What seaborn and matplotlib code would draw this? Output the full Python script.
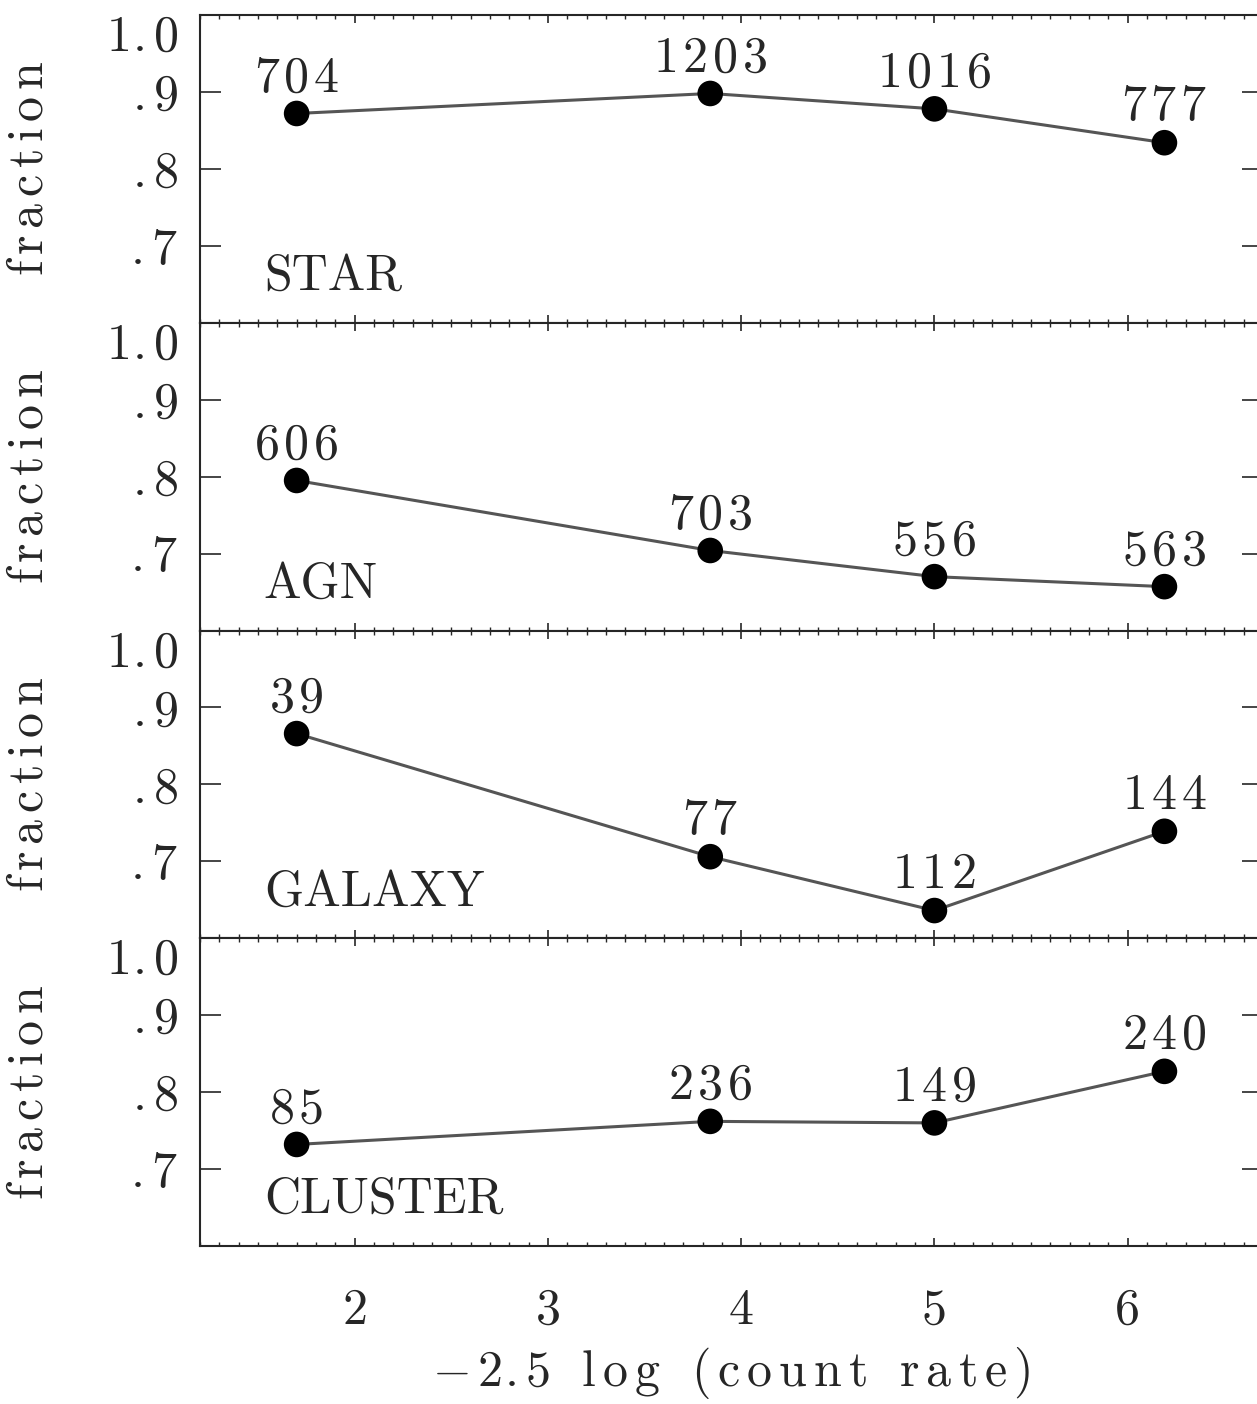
import numpy as np
import pandas as pd
import matplotlib
matplotlib.use("Agg")
import matplotlib.pyplot as plt
from matplotlib.ticker import FixedLocator, FixedFormatter, MultipleLocator
import seaborn as sns

# Magnitude bins (-2.5 log count rate)
mag = [1.7, 3.84, 5.0, 6.19]

# Fraction per class and the number of sources in each bin
classes = ["STAR", "AGN", "GALAXY", "CLUSTER"]
frac_star = [0.872, 0.898, 0.878, 0.834]
frac_agn = [0.795, 0.704, 0.670, 0.657]
frac_galaxy = [0.866, 0.706, 0.636, 0.739]
frac_cluster = [0.732, 0.762, 0.760, 0.827]
n_star = [704, 1203, 1016, 777]
n_agn = [606, 703, 556, 563]
n_galaxy = [39, 77, 112, 144]
n_cluster = [85, 236, 149, 240]

y_ticks = [1.0, 0.9, 0.8, 0.7]
y_ticklabels = ["1.0", ".9", ".8", ".7"]
x_ticks = [2, 3, 4, 5, 6]
x_ticklabels = ["2", "3", "4", "5", "6"]

fractions = [frac_star, frac_agn, frac_galaxy, frac_cluster]
counts = [n_star, n_agn, n_galaxy, n_cluster]


def spaced(s, gap, word=0.36):
    """Roman mathtext string with extra tracking between characters;
    decimal points are kept tight against their digits."""
    out = ""
    for i, ch in enumerate(s):
        if i > 0 and "." not in (ch, s[i - 1]) and " " not in (ch, s[i - 1]):
            out += r"\hspace{%g}" % gap
        if ch == " ":
            out += r"\hspace{%g}" % word
        elif ch == "-":
            out += "-"
        elif ch == ".":
            out += r"\hspace{0.04}\mathrm{.}\hspace{-0.05}"
        else:
            out += r"\mathrm{%s}" % ch
    return "$" + out + "$"


sns.set_style("ticks")
plt.rcParams["font.family"] = ["cmr10", "DejaVu Serif"]
plt.rcParams["mathtext.fontset"] = "cm"
plt.rcParams["axes.unicode_minus"] = False
plt.rcParams["axes.linewidth"] = 1.5

FS = 36
DIGIT_GAP = 0.11
TICK_GAP = 0.06
LOWER_GAP = 0.15

fig, axes = plt.subplots(4, 1, sharex=True, figsize=(12.57, 14.04), dpi=100,
                         gridspec_kw={"hspace": 0})
fig.subplots_adjust(left=200 / 1257, right=1263 / 1257,
                    top=1 - 15 / 1404, bottom=1 - 1246 / 1404)

for ax, name, fr, nn in zip(axes, classes, fractions, counts):
    df = pd.DataFrame({"mag": mag, "fraction": fr})
    sns.lineplot(data=df, x="mag", y="fraction", ax=ax, color="#555555",
                 linewidth=2.2, zorder=2)
    sns.scatterplot(data=df, x="mag", y="fraction", ax=ax, color="black",
                    s=340, edgecolor="none", zorder=3)
    for xv, yv, n in zip(mag, fr, nn):
        ax.annotate(spaced(str(n), DIGIT_GAP), (xv, yv), xytext=(0, 16),
                    textcoords="offset points", ha="center", va="baseline",
                    fontsize=FS)
    ax.text(0.06, 0.107, name, transform=ax.transAxes, fontsize=FS,
            ha="left", va="baseline")

    ax.set_xlim(1.2, 6.7)
    ax.set_ylim(0.6, 1.0)
    ax.yaxis.set_major_locator(FixedLocator(y_ticks))
    ax.yaxis.set_major_formatter(
        FixedFormatter([spaced(t, TICK_GAP) for t in y_ticklabels]))
    ax.tick_params(axis="y", which="major", direction="in", length=15, width=1.2,
                   left=True, right=True, labelsize=FS, pad=16)
    ax.tick_params(axis="x", which="major", direction="in", length=6, width=1.2,
                   top=True, bottom=True, labelsize=FS, pad=30)
    ax.tick_params(axis="x", which="minor", direction="in", length=3, width=1.0,
                   top=True, bottom=True)
    ax.xaxis.set_minor_locator(MultipleLocator(0.1))
    ax.set_ylabel(spaced("fraction", LOWER_GAP), fontsize=FS)
    ax.yaxis.set_label_coords(-0.139, 0.5)
    ax.set_xlabel("")
    for lab in ax.get_yticklabels():
        if "1" in lab.get_text():
            lab.set_verticalalignment("top")

axes[-1].xaxis.set_major_locator(FixedLocator(x_ticks))
axes[-1].xaxis.set_major_formatter(FixedFormatter(x_ticklabels))
axes[-1].set_xlabel(spaced("-2.5 log (count rate)", 0.16, word=0.72),
                    fontsize=FS, labelpad=8)

fig.savefig("out.png", dpi=100)
